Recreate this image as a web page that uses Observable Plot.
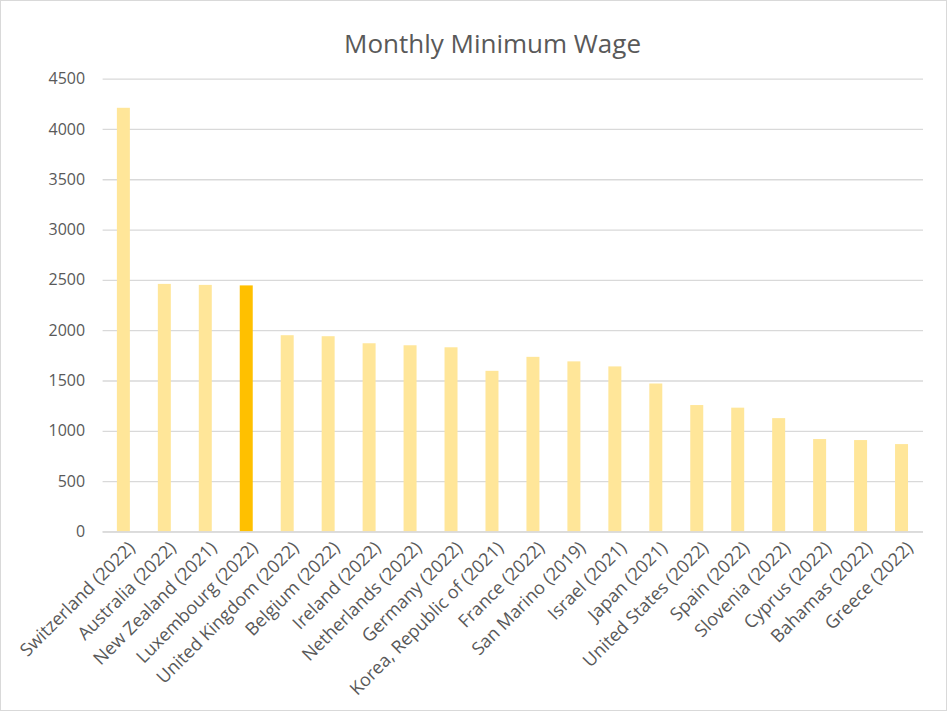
<!DOCTYPE html>
<html>
<head>
<meta charset="utf-8">
<script src="https://cdn.jsdelivr.net/npm/d3@7"></script>
<script src="https://cdn.jsdelivr.net/npm/@observablehq/plot@0.6"></script>
<style>
  html, body { margin: 0; padding: 0; background: #fff; }
  #wrap { position: relative; width: 947px; height: 711px; box-sizing: border-box; border: 1px solid #d9d9d9; overflow: hidden; }
  #title { position: absolute; left: 18px; width: 947px; top: 24px; text-align: center; font-family: "Open Sans", sans-serif; font-size: 26px; color: #595959; margin: 0; font-weight: normal; line-height: 36px; }
  #chart { position: absolute; left: -1px; top: -1px; }
</style>
</head>
<body>
<div id="wrap">
  <div id="title">Monthly Minimum Wage</div>
  <div id="chart"></div>
</div>
<script>
const countries = [
  "Switzerland (2022)", "Australia (2022)", "New Zealand (2021)", "Luxembourg (2022)",
  "United Kingdom (2022)", "Belgium (2022)", "Ireland (2022)", "Netherlands (2022)",
  "Germany (2022)", "Korea, Republic of (2021)", "France (2022)", "San Marino (2019)",
  "Israel (2021)", "Japan (2021)", "United States (2022)", "Spain (2022)",
  "Slovenia (2022)", "Cyprus (2022)", "Bahamas (2022)", "Greece (2022)"
];
const wages = [4210, 2460, 2450, 2445, 1950, 1940, 1870, 1850, 1830, 1596, 1735, 1690, 1640, 1470, 1256, 1230, 1126, 918, 908, 868];
const highlighted = ["Luxembourg (2022)"];
const yTicks = [0, 500, 1000, 1500, 2000, 2500, 3000, 3500, 4000, 4500];

const data = countries.map((c, i) => ({country: c, wage: wages[i], hi: highlighted.includes(c)}));

const chart = Plot.plot({
  width: 947,
  height: 711,
  marginLeft: 102.7,
  marginRight: 23,
  marginTop: 78.7,
  marginBottom: 179,
  style: {fontFamily: "'Open Sans', sans-serif", fontSize: "16px", color: "#595959", background: "transparent"},
  x: {domain: countries, padding: 0, label: null},
  y: {domain: [0, 4500], label: null},
  marks: [
    Plot.gridY(yTicks, {stroke: "#d9d9d9", strokeOpacity: 1, strokeWidth: 1.3}),
    Plot.axisY(yTicks, {tickSize: 0, tickPadding: 18, tickFormat: d => String(d), fontSize: 16, fill: "#595959", label: null}),
    Plot.barY(data, {x: "country", y: "wage", fill: d => d.hi ? "#FFC000" : "#FFE699", insetLeft: 14, insetRight: 14}),
    Plot.ruleY([0], {stroke: "#d9d9d9", strokeWidth: 1.5}),
    Plot.axisX({tickSize: 0, tickPadding: 13, dx: 8, tickRotate: -45, fontSize: 18, fill: "#595959", label: null})
  ]
});
document.getElementById("chart").appendChild(chart);
</script>
</body>
</html>
